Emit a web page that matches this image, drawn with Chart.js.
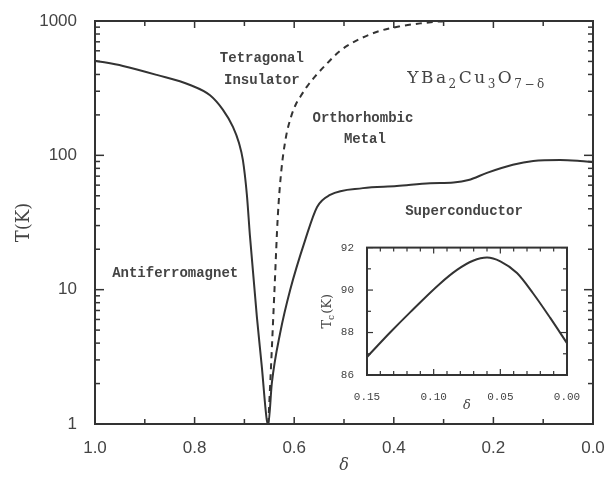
<!DOCTYPE html>
<html><head><meta charset="utf-8">
<script src="https://cdn.jsdelivr.net/npm/chart.js@4/dist/chart.umd.min.js"></script>
<style>
html,body{margin:0;padding:0;background:#fff;}
#wrap{position:relative;width:605px;height:478px;overflow:hidden;}
#main{position:absolute;left:0;top:0;width:605px;height:478px;}
#inset{position:absolute;left:310px;top:236px;width:270px;height:185px;}
</style></head><body>
<div id="wrap"><canvas id="main" width="605" height="478"></canvas><canvas id="inset" width="270" height="185"></canvas></div>
<script>
// ---- main phase diagram data ----
const solidDelta = [1.0,0.944,0.876,0.809,0.769,0.743,0.723,0.711,0.703,0.695,0.689,0.675,0.665,0.655,0.652,0.645,0.628,0.608,0.578,0.554,0.528,0.462,0.394,0.327,0.28,0.25,0.213,0.161,0.12,0.066,0.026,0.0];
const solidT     = [507,463,397,334,280,218,163,124,92,50.7,25.5,6.3,2.66,1.07,1.0,2.0,4.8,10,23.4,41.3,50.7,57,59,62,62.8,65.5,74,85,90.8,92.4,90.8,89];
const dashDelta  = [0.652,0.645,0.639,0.633,0.626,0.6165,0.6064,0.5964,0.588,0.574,0.558,0.534,0.508,0.468,0.428,0.388,0.347,0.307,0.295];
const dashT      = [1,3.56,11.2,34.8,76,137,193,241,272,326,387,483,599,736,844,912,960,993,1000];
const xTickValues = [0,0.2,0.4,0.6,0.8,1.0];
const yTickValues = [1,10,100,1000];
// ---- inset data ----
const insetDelta = [0.15,0.1327,0.1177,0.0953,0.0825,0.0705,0.06,0.05,0.0375,0.0255,0.0127,0.0];
const insetTc    = [86.85,88.0,88.95,90.3,90.95,91.38,91.53,91.35,90.8,89.85,88.7,87.5];
const insetXTicks = [0,0.05,0.10,0.15];
const insetYTicks = [86,88,90,92];
// ---- region labels (anchored in data coordinates) ----
const labelText  = ['Tetragonal','Insulator','Orthorhombic','Metal','Superconductor','Antiferromagnet'];
const labelDelta = [0.665,0.665,0.462,0.458,0.259,0.839];
const labelT     = [530,360,187,132,37.9,13.3];

const INK = '#333';
const TXT = '#444';

function seg(ctx,x1,y1,x2,y2){ctx.beginPath();ctx.moveTo(x1,y1);ctx.lineTo(x2,y2);ctx.stroke();}

const mainDecor = {
  id:'mainDecor',
  afterDraw(chart){
    const ctx = chart.ctx;
    const {left,right,top,bottom} = chart.chartArea;
    const xs = chart.scales.x, ys = chart.scales.y;
    ctx.save();
    ctx.strokeStyle = INK; ctx.lineWidth = 2;
    ctx.strokeRect(left,top,right-left,bottom-top);
    ctx.lineWidth = 1.5;
    for(let i=0;i<=10;i++){
      const px = xs.getPixelForValue(i/10);
      const L = (i%2===0)?7:5;
      seg(ctx,px,bottom,px,bottom-L); seg(ctx,px,top,px,top+L);
    }
    for(let k=0;k<3;k++){
      for(let m=1;m<=9;m++){
        const py = ys.getPixelForValue(m*Math.pow(10,k));
        const L = m===1?9:5;
        seg(ctx,left,py,left+L,py); seg(ctx,right,py,right-L,py);
      }
    }
    // region labels
    ctx.fillStyle = TXT;
    ctx.font = 'bold 14px "Liberation Mono"';
    ctx.textAlign = 'center'; ctx.textBaseline = 'middle';
    for(let i=0;i<labelText.length;i++){
      ctx.fillText(labelText[i], xs.getPixelForValue(labelDelta[i]), ys.getPixelForValue(labelT[i]));
    }
    // formula YBa2Cu3O7-δ
    const pieces = [['Y',0],['B',0],['a',0],['2',1],['C',0],['u',0],['3',1],['O',0],['7',1],['\u2212',1],['\u03b4',1]];
    let fx = xs.getPixelForValue(0.373);
    const fy = ys.getPixelForValue(377) + 5;
    ctx.textAlign = 'left'; ctx.textBaseline = 'alphabetic';
    for(const [ch,sub] of pieces){
      ctx.font = sub ? '12px "DejaVu Serif"' : '17px "DejaVu Serif"';
      ctx.fillText(ch, fx, fy + (sub?5:0));
      fx += ctx.measureText(ch).width + 2.5;
    }
    ctx.restore();
  }
};

new Chart(document.getElementById('main'), {
  type:'line',
  data:{datasets:[
    {data: solidDelta.map((d,i)=>({x:d,y:solidT[i]})), borderColor:INK, borderWidth:2, pointRadius:0, cubicInterpolationMode:'monotone', fill:false},
    {data: dashDelta.map((d,i)=>({x:d,y:dashT[i]})), borderColor:INK, borderWidth:2, borderDash:[6,5], pointRadius:0, cubicInterpolationMode:'monotone', fill:false}
  ]},
  options:{
    responsive:false, animation:false, events:[],
    layout:{padding:{left:0,top:21,right:12,bottom:0}},
    plugins:{legend:{display:false}, tooltip:{enabled:false}},
    scales:{
      x:{type:'linear', reverse:true, min:0, max:1,
        afterFit(s){s.height=54;},
        afterBuildTicks(s){s.ticks = xTickValues.map(v=>({value:v}));},
        ticks:{callback:v=>Number(v).toFixed(1), color:TXT, font:{family:'Liberation Sans', size:17}, padding:6, maxRotation:0, autoSkip:false},
        grid:{display:false}, border:{display:false},
        title:{display:true, text:'\u03b4', color:TXT, font:{family:'DejaVu Serif', style:'italic', size:16}, padding:{top:0,bottom:3}}
      },
      y:{type:'logarithmic', min:1, max:1000,
        afterFit(s){s.width=95;},
        afterBuildTicks(s){s.ticks = yTickValues.map(v=>({value:v}));},
        ticks:{callback:v=>String(v), color:TXT, font:{family:'Liberation Sans', size:17}, padding:10, autoSkip:false},
        grid:{display:false}, border:{display:false},
        title:{display:true, text:'T(K)', color:TXT, font:{family:'DejaVu Serif', size:18}, padding:{top:14,bottom:0}}
      }
    }
  },
  plugins:[mainDecor]
});

const insetDecor = {
  id:'insetDecor',
  afterDraw(chart){
    const ctx = chart.ctx;
    const {left,right,top,bottom} = chart.chartArea;
    const xs = chart.scales.x, ys = chart.scales.y;
    ctx.save();
    ctx.strokeStyle = INK; ctx.lineWidth = 2;
    ctx.strokeRect(left,top,right-left,bottom-top);
    ctx.lineWidth = 1.2;
    for(let i=0;i<=15;i++){
      const px = xs.getPixelForValue(i/100);
      const L = (i%5===0)?6:4;
      seg(ctx,px,bottom,px,bottom-L); seg(ctx,px,top,px,top+L);
    }
    for(let v=86; v<=92; v++){
      const py = ys.getPixelForValue(v);
      const L = (v%2===0)?6:4;
      seg(ctx,left,py,left+L,py); seg(ctx,right,py,right-L,py);
    }
    // rotated y title T_c(K)
    ctx.translate(18,(top+bottom)/2);
    ctx.rotate(-Math.PI/2);
    ctx.fillStyle = TXT; ctx.textBaseline = 'middle';
    ctx.font = '13px "DejaVu Serif"';
    const wT = ctx.measureText('T').width, wK = ctx.measureText('(K)').width;
    ctx.font = '9px "DejaVu Serif"';
    const wc = ctx.measureText('c').width;
    let x0 = -(wT+wc+wK+1)/2;
    ctx.font = '13px "DejaVu Serif"'; ctx.textAlign='left';
    ctx.fillText('T',x0,0);
    ctx.font = '9px "DejaVu Serif"';
    ctx.fillText('c',x0+wT,4);
    ctx.font = '13px "DejaVu Serif"';
    ctx.fillText('(K)',x0+wT+wc+1,0);
    ctx.restore();
  }
};

new Chart(document.getElementById('inset'), {
  type:'line',
  data:{datasets:[
    {data: insetDelta.map((d,i)=>({x:d,y:insetTc[i]})), borderColor:INK, borderWidth:2, pointRadius:0, cubicInterpolationMode:'monotone', fill:false}
  ]},
  options:{
    responsive:false, animation:false, events:[],
    layout:{padding:{left:0,top:10,right:13,bottom:0}},
    plugins:{legend:{display:false}, tooltip:{enabled:false}},
    scales:{
      x:{type:'linear', reverse:true, min:0, max:0.15,
        afterFit(s){s.height=46;},
        afterBuildTicks(s){s.ticks = insetXTicks.map(v=>({value:v}));},
        ticks:{callback:v=>Number(v).toFixed(2), color:TXT, font:{family:'Liberation Mono', size:11}, padding:7, maxRotation:0, autoSkip:false},
        grid:{display:false}, border:{display:false},
        title:{display:true, text:'\u03b4', color:TXT, font:{family:'DejaVu Serif', style:'italic', size:13}, padding:{top:0,bottom:8}}
      },
      y:{type:'linear', min:86, max:92,
        afterFit(s){s.width=57;},
        afterBuildTicks(s){s.ticks = insetYTicks.map(v=>({value:v}));},
        ticks:{callback:v=>String(v), color:TXT, font:{family:'Liberation Mono', size:11}, padding:5, autoSkip:false},
        grid:{display:false}, border:{display:false}
      }
    }
  },
  plugins:[insetDecor]
});
</script>
</body></html>
